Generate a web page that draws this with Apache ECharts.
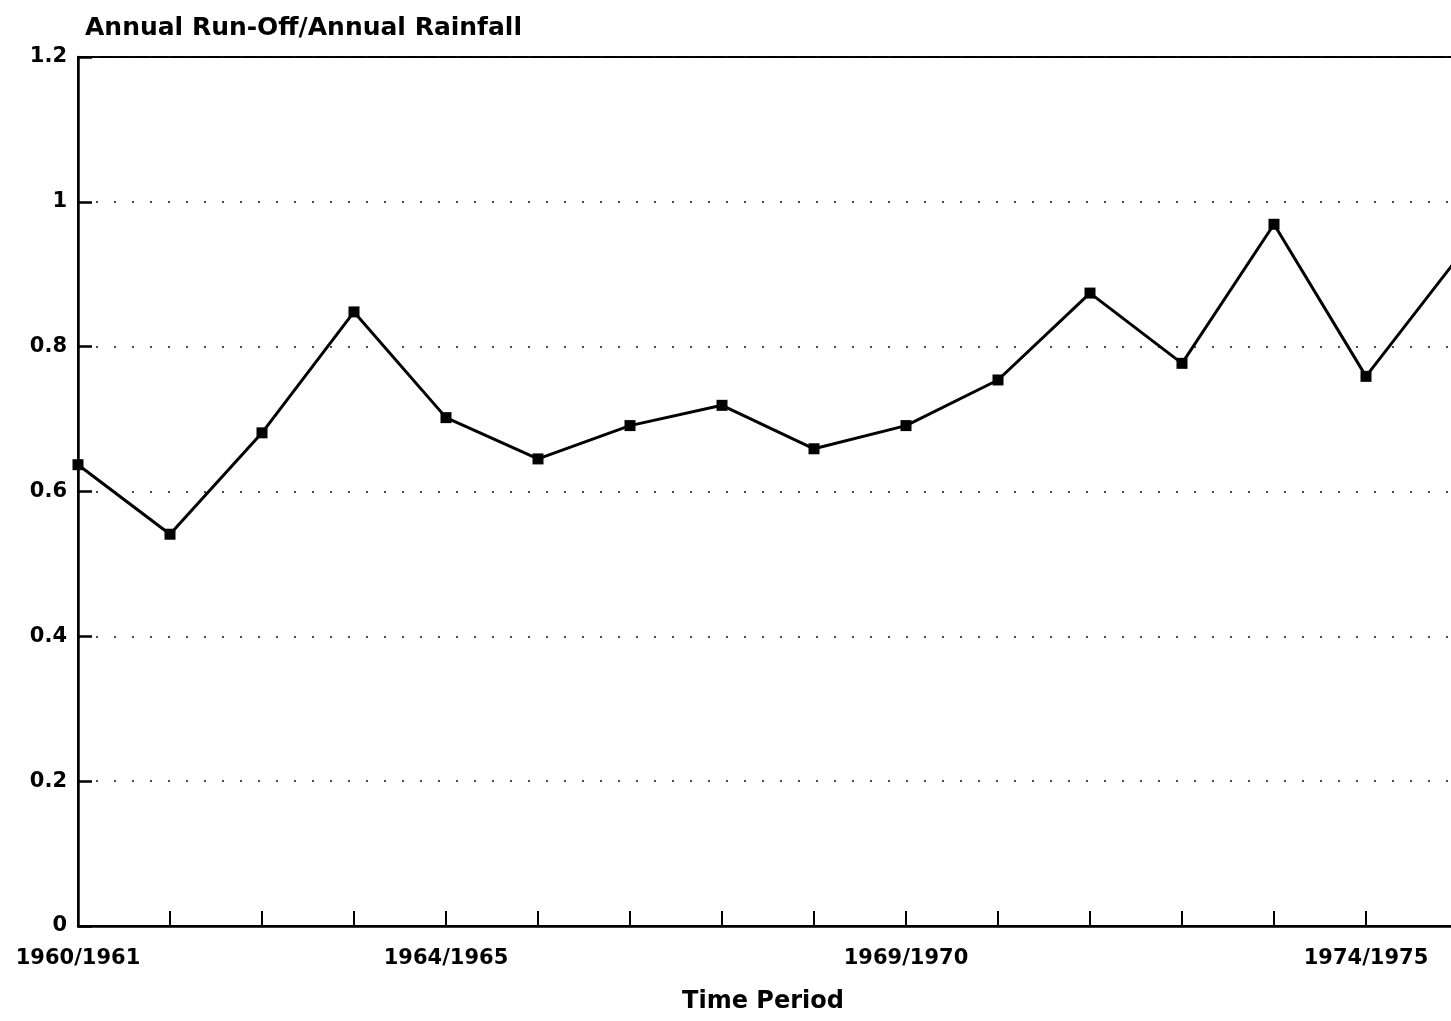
<!DOCTYPE html>
<html>
<head>
<meta charset="utf-8">
<script src="https://cdn.jsdelivr.net/npm/echarts@6/dist/echarts.min.js"></script>
<style>
html,body{margin:0;padding:0;background:#fff;}
#chart{width:1451px;height:1021px;}
</style>
</head>
<body>
<div id="chart"></div>
<script>
const categories = ['1960/1961','1961/1962','1962/1963','1963/1964','1964/1965','1965/1966','1966/1967','1967/1968','1968/1969','1969/1970','1970/1971','1971/1972','1972/1973','1973/1974','1974/1975','1975/1976'];
const ratioValues = [0.637, 0.541, 0.681, 0.848, 0.702, 0.645, 0.691, 0.719, 0.659, 0.691, 0.754, 0.874, 0.777, 0.969, 0.759, 0.923];
const labelledCategories = ['1960/1961','1964/1965','1969/1970','1974/1975'];
const yTicks = { min: 0, max: 1.2, interval: 0.2 };
const titleText = 'Annual Run-Off/Annual Rainfall';
const xAxisName = 'Time Period';

const FONT = '"DejaVu Sans", sans-serif';
const chart = echarts.init(document.getElementById('chart'), null, {renderer: 'canvas'});
chart.setOption({
  animation: false,
  backgroundColor: '#fff',
  title: {
    text: titleText,
    left: 80, top: 11,
    textStyle: {fontFamily: FONT, fontWeight: 'bold', fontSize: 25, color: '#000'}
  },
  grid: {
    left: 78, width: 1380, top: 57, bottom: 95,
    outerBoundsMode: 'none',
    containLabel: false,
    show: true, borderColor: '#000', borderWidth: 2, backgroundColor: 'transparent'
  },
  xAxis: {
    type: 'category',
    data: categories,
    boundaryGap: false,
    name: xAxisName,
    nameLocation: 'middle',
    nameGap: 64,
    nameTextStyle: {fontFamily: FONT, fontWeight: 'bold', fontSize: 24, color: '#000', padding: [0, 10, 0, 0]},
    axisLine: {lineStyle: {color: '#000', width: 2.5}},
    axisTick: {show: true, inside: true, length: 15, interval: 0, lineStyle: {color: '#000', width: 2}},
    axisLabel: {
      interval: function (i, v) { return labelledCategories.indexOf(v) >= 0; },
      margin: 22,
      fontFamily: FONT, fontWeight: 'bold', fontSize: 21, color: '#000'
    },
    splitLine: {show: false}
  },
  yAxis: {
    type: 'value',
    min: yTicks.min, max: yTicks.max, interval: yTicks.interval,
    axisLine: {show: true, lineStyle: {color: '#000', width: 2.5}},
    axisTick: {show: true, inside: true, length: 14, lineStyle: {color: '#000', width: 2.5}},
    axisLabel: {margin: 11, fontFamily: FONT, fontWeight: 'bold', fontSize: 21, color: '#000'},
    splitLine: {show: true, lineStyle: {color: '#111', width: 1.5, type: [2, 16]}}
  },
  series: [{
    type: 'line',
    data: ratioValues,
    symbol: 'rect',
    symbolSize: 11,
    itemStyle: {color: '#000'},
    lineStyle: {color: '#000', width: 3},
    clip: true
  }]
});
</script>
</body>
</html>
